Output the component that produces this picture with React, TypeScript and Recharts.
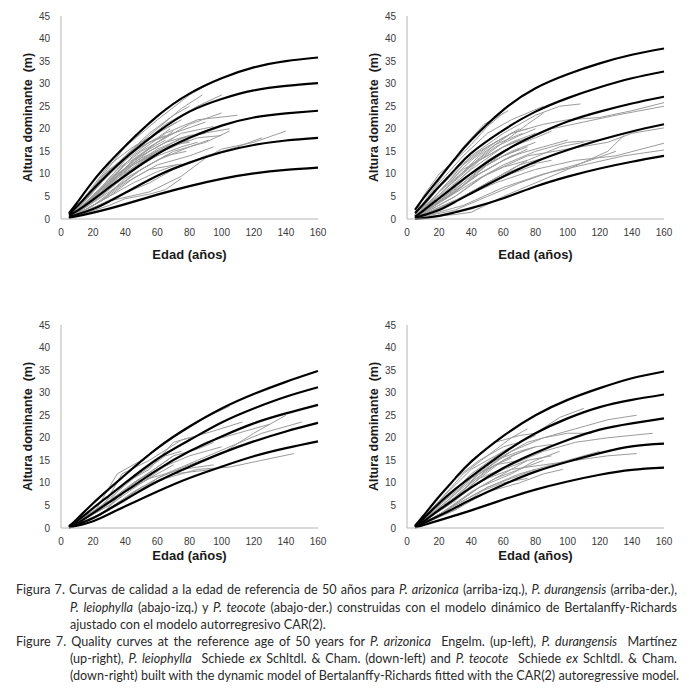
import React from "react";
import { LineChart, Line, XAxis, YAxis } from "recharts";

// ages at which the fitted site curves were read
const AGES = [5, 10, 20, 30, 40, 60, 80, 100, 120, 140, 160];
const X_TICKS = [0, 20, 40, 60, 80, 100, 120, 140, 160];
const Y_TICKS = [0, 5, 10, 15, 20, 25, 30, 35, 40, 45];

// Bertalanffy-Richards curves (m), one row per site class
const arizonicaCurves = [
  [1.3, 3.6, 8.4, 12.5, 16.2, 22.8, 27.8, 31.2, 33.6, 35.0, 35.8],
  [1.0, 2.8, 6.6, 10.2, 13.5, 19.2, 23.8, 26.6, 28.5, 29.5, 30.1],
  [0.8, 1.8, 4.3, 7.0, 9.6, 14.4, 18.0, 20.7, 22.5, 23.4, 24.0],
  [0.5, 1.0, 2.2, 3.9, 5.8, 9.6, 12.5, 14.8, 16.4, 17.4, 18.0],
  [0.3, 0.6, 1.4, 2.3, 3.3, 5.4, 7.3, 8.9, 10.1, 10.9, 11.4],
];
const durangensisCurves = [
  [2.0, 4.5, 9.0, 13.4, 17.5, 24.2, 29.0, 32.1, 34.5, 36.4, 37.8],
  [1.3, 3.2, 7.2, 11.0, 14.6, 19.7, 23.8, 26.8, 29.2, 31.2, 32.7],
  [0.5, 1.8, 4.6, 7.4, 10.1, 14.9, 18.6, 21.6, 23.8, 25.6, 27.1],
  [0.2, 0.8, 2.0, 3.8, 5.7, 9.4, 12.7, 15.3, 17.5, 19.4, 21.0],
  [0.0, 0.2, 0.7, 1.5, 2.4, 4.6, 7.2, 9.4, 11.2, 12.7, 14.0],
];
const leiophyllaCurves = [
  [0.4, 2.0, 5.5, 8.7, 11.8, 17.7, 22.5, 26.5, 29.7, 32.4, 34.8],
  [0.2, 1.5, 4.4, 7.2, 10.0, 15.3, 19.5, 23.4, 26.5, 29.1, 31.2],
  [0.2, 1.0, 3.3, 5.7, 8.1, 12.9, 17.0, 20.3, 23.2, 25.4, 27.3],
  [0.1, 0.7, 2.2, 4.2, 6.3, 10.3, 13.6, 16.6, 19.2, 21.4, 23.3],
  [0.1, 0.5, 1.5, 3.1, 4.8, 8.1, 11.1, 13.6, 15.9, 17.7, 19.2],
];
const teocoteCurves = [
  [0.5, 2.6, 7.0, 11.0, 14.7, 20.4, 25.0, 28.4, 31.0, 33.2, 34.7],
  [0.4, 2.0, 5.5, 8.6, 11.4, 16.6, 21.0, 24.3, 26.8, 28.4, 29.6],
  [0.3, 1.4, 4.0, 6.5, 9.0, 13.3, 16.7, 19.5, 21.8, 23.2, 24.3],
  [0.2, 1.0, 2.7, 4.5, 6.3, 9.6, 12.5, 14.7, 16.6, 18.1, 18.7],
  [0.1, 0.6, 1.7, 2.8, 3.9, 6.3, 8.5, 10.3, 11.8, 12.9, 13.4],
];

// observed stem-analysis profiles: [age, height] pairs
const arizonicaObs = [
  [[5, 0.5], [20, 7], [40, 16], [60, 22], [80, 27.5], [95, 30.5]],
  [[5, 0.3], [20, 6], [40, 14], [60, 20], [75, 24.5], [88, 27.5]],
  [[5, 0.3], [25, 8], [45, 15], [65, 21], [85, 25], [100, 27.5]],
  [[5, 0.2], [25, 7], [45, 14], [65, 19], [85, 22], [110, 23]],
  [[5, 0.2], [20, 5], [40, 12], [60, 17], [80, 21], [100, 23.5]],
  [[5, 0.2], [25, 6], [45, 12], [60, 15.5], [80, 18.5], [105, 20]],
  [[5, 0.1], [30, 6], [50, 11], [70, 15], [90, 17], [105, 19.5]],
  [[5, 0.1], [30, 4], [55, 6], [75, 9.5], [90, 13.5], [100, 15.5], [120, 17], [140, 19.5]],
  [[5, 0.1], [35, 5], [55, 8], [70, 11], [90, 14], [110, 16], [125, 18]],
  [[5, 0.2], [20, 4], [40, 10], [60, 15], [75, 18], [90, 19]],
  [[5, 0.2], [20, 5], [35, 10], [50, 14], [65, 17], [80, 18.5]],
  [[5, 0.2], [20, 4], [35, 9], [55, 14], [70, 16.5]],
  [[5, 0.1], [25, 4], [40, 8], [55, 11], [75, 12.2]],
  [[5, 0.3], [15, 5], [30, 12], [45, 16], [55, 18]],
  [[5, 0.3], [20, 6], [35, 12], [50, 17], [65, 20], [75, 22]],
  [[5, 0.1], [30, 5], [45, 9], [60, 12], [80, 14], [95, 16]],
  [[5, 0.2], [25, 7], [40, 13], [55, 17], [70, 19], [90, 21.5]],
  [[5, 0.1], [25, 5], [45, 11], [60, 14], [75, 16], [85, 17]],
  [[5, 0.2], [20, 6], [40, 14], [55, 19], [70, 23], [80, 25]],
  [[5, 0.1], [30, 3], [40, 4.5], [55, 5.5], [65, 6.5], [75, 9]],
  [[5, 0.3], [20, 5], [35, 11], [50, 15], [60, 17], [70, 19.5]],
  [[5, 0.2], [30, 8], [45, 13], [60, 16], [75, 19], [95, 20.5]],
  [[5, 0.3], [15, 4], [30, 10], [45, 15], [60, 19], [72, 21.5]],
  [[5, 0.2], [20, 5], [35, 10], [50, 13.5], [65, 16], [80, 17.5]],
  [[5, 0.2], [25, 6], [40, 11], [55, 15], [70, 18]],
  [[5, 0.1], [20, 3], [35, 7], [50, 11], [65, 14], [78, 15]],
  [[5, 0.2], [30, 8], [45, 13], [60, 17], [70, 19]],
  [[5, 0.2], [15, 3], [30, 8], [45, 12], [60, 15]],
  [[5, 0.1], [25, 4], [40, 9], [60, 13], [80, 16], [92, 17.5]],
  [[5, 0.3], [25, 9], [40, 14], [55, 17], [65, 18.5]],
  [[5, 0.2], [20, 5], [40, 11], [50, 13], [70, 16], [85, 19], [95, 20]],
  [[5, 0.1], [30, 5], [45, 8], [60, 10.5], [72, 12]],
  [[5, 0.2], [25, 6], [35, 9.5], [45, 13], [55, 15.5], [65, 17.5]],
  [[5, 0.2], [30, 7], [40, 10], [50, 12.5], [60, 14.5], [70, 16.5], [80, 17]],
  [[5, 0.3], [20, 7], [30, 11], [40, 13.5], [50, 16], [60, 18], [68, 20]],
  [[5, 0.1], [35, 8], [50, 12], [65, 15.5], [85, 18], [100, 18.5]],
];
const durangensisObs = [
  [[5, 1], [15, 6], [25, 11], [35, 16], [48, 21], [63, 24]],
  [[5, 0.8], [20, 8], [35, 14], [50, 19], [65, 22], [85, 25]],
  [[5, 0.5], [20, 6], [40, 14], [60, 19], [80, 23], [95, 25], [108, 25.5]],
  [[5, 0.5], [25, 7], [45, 14], [65, 19], [85, 21], [100, 22], [120, 22.5], [140, 24], [160, 25.8]],
  [[5, 0.3], [30, 7], [50, 13], [70, 17], [90, 20], [110, 21.5], [130, 23], [160, 25]],
  [[5, 0.3], [25, 5], [45, 10], [65, 14], [85, 16], [100, 17.5]],
  [[5, 0.2], [30, 5], [50, 10], [75, 14], [100, 15.5], [125, 17], [140, 19], [160, 20.2]],
  [[5, 0.2], [30, 4], [55, 8], [80, 11], [105, 13], [130, 14], [160, 16.8]],
  [[5, 0.1], [35, 3], [60, 7], [85, 10], [110, 12], [135, 14], [160, 15.3]],
  [[5, 0.2], [30, 1], [40, 1.5], [60, 5], [80, 8], [100, 11], [125, 15], [135, 18.5]],
  [[5, 0.3], [20, 5], [40, 11], [60, 16], [75, 18]],
  [[5, 0.3], [20, 4], [40, 10], [60, 14], [75, 16]],
  [[5, 0.2], [25, 5], [45, 11], [60, 14], [70, 15.5]],
  [[5, 0.4], [20, 7], [35, 12], [50, 16], [65, 19], [75, 20]],
  [[5, 0.2], [30, 6], [50, 12], [65, 16], [80, 18], [90, 19.5]],
  [[5, 0.2], [30, 4], [50, 8], [70, 12], [90, 14]],
  [[5, 0.1], [25, 3], [45, 7], [65, 10], [80, 12]],
  [[5, 0.4], [15, 5], [30, 11], [45, 15], [60, 18]],
  [[5, 0.3], [25, 7], [40, 12], [55, 16], [70, 18.5], [80, 20]],
  [[5, 0.2], [40, 8], [60, 12], [80, 15], [100, 17], [120, 17.5]],
  [[5, 0.5], [10, 5], [20, 10], [30, 13], [40, 16.5], [50, 20.5], [60, 23.5]],
  [[5, 0.3], [25, 6], [45, 13], [60, 17], [75, 21], [85, 23.5]],
  [[5, 0.2], [30, 5], [45, 9], [60, 11.5], [75, 13]],
  [[5, 0.3], [20, 6], [35, 11], [50, 14], [65, 17], [80, 19]],
  [[5, 0.2], [20, 4], [35, 8], [50, 12], [65, 15], [80, 17]],
  [[5, 0.3], [25, 8], [40, 13], [55, 17], [70, 20]],
  [[5, 0.1], [25, 3], [40, 6], [60, 10], [75, 12], [90, 13]],
  [[5, 0.2], [30, 6], [45, 10], [60, 13], [75, 15.5]],
  [[5, 0.4], [20, 6], [30, 9], [45, 13], [60, 16], [70, 17.5]],
  [[5, 0.2], [35, 5], [55, 9], [75, 13], [95, 16], [110, 17]],
  [[5, 0.1], [30, 2], [50, 5], [70, 8], [90, 10.5], [110, 12.5], [130, 15]],
  [[5, 0.3], [25, 7], [35, 10], [45, 13.5], [55, 16.5], [65, 18], [72, 19]],
  [[5, 0.2], [30, 6], [40, 9], [50, 11], [60, 13], [70, 14.5]],
];
const leiophyllaObs = [
  [[5, 0.2], [20, 3], [35, 12], [50, 15], [70, 20], [90, 24.5], [105, 27]],
  [[5, 0.2], [25, 4], [38, 12], [55, 15], [75, 19.5], [95, 21.5], [113, 23.5]],
  [[5, 0.1], [25, 3], [45, 8], [65, 12], [85, 15], [105, 18], [125, 21], [150, 23.5]],
  [[5, 0.1], [25, 3], [45, 8], [65, 11], [85, 13], [105, 13.5], [125, 15], [145, 16.5]],
  [[5, 0.2], [30, 5], [50, 10], [70, 15], [90, 19], [110, 21], [130, 23]],
  [[5, 0.2], [30, 5], [45, 10], [60, 13], [80, 16], [100, 18]],
  [[5, 0.1], [30, 4], [50, 9], [70, 12], [95, 13]],
  [[5, 0.2], [25, 5], [45, 11], [65, 16], [75, 17]],
  [[5, 0.2], [30, 6], [45, 10], [60, 13.5], [70, 16]],
  [[5, 0.2], [20, 2], [40, 6], [60, 11], [80, 14], [100, 16.5], [120, 21], [140, 25]],
  [[5, 0.1], [35, 7], [55, 11], [70, 14]],
  [[5, 0.2], [30, 6], [50, 11], [70, 16], [85, 17.5], [95, 19]],
  [[5, 0.1], [25, 3], [40, 8], [55, 11], [75, 13], [95, 14]],
  [[5, 0.2], [30, 6], [40, 10], [55, 13], [70, 19], [80, 20]],
];
const teocoteObs = [
  [[5, 0.3], [20, 7], [40, 15], [55, 19], [70, 20.5], [80, 21]],
  [[5, 0.3], [20, 5], [40, 12], [60, 17], [80, 21], [95, 24.5], [110, 26.5]],
  [[5, 0.2], [25, 6], [45, 12], [65, 17], [85, 20], [105, 22], [125, 24], [143, 25]],
  [[5, 0.2], [25, 5], [45, 11], [65, 14], [85, 17], [105, 19], [125, 20], [153, 21]],
  [[5, 0.1], [25, 4], [45, 9], [65, 13], [85, 14], [105, 15], [125, 16], [143, 16.5]],
  [[5, 0.1], [25, 4], [45, 9], [65, 12], [80, 15], [95, 17]],
  [[5, 0.1], [30, 4], [50, 8], [70, 10], [85, 12], [97, 13]],
  [[5, 0.3], [15, 5], [30, 11], [45, 15], [60, 18], [70, 19]],
  [[5, 0.2], [20, 5], [40, 11], [55, 15], [70, 17], [80, 18]],
  [[5, 0.2], [25, 5], [40, 10], [55, 14], [65, 15.5]],
  [[5, 0.2], [20, 4], [35, 8], [50, 11], [65, 13], [75, 15]],
  [[5, 0.2], [25, 5], [45, 12], [60, 16], [75, 19], [85, 20], [100, 21], [115, 21]],
  [[5, 0.1], [30, 5], [50, 9], [70, 12], [90, 14], [110, 16], [120, 17]],
  [[5, 0.3], [20, 6], [35, 12], [50, 16], [65, 20], [75, 22]],
  [[5, 0.2], [25, 6], [40, 11], [55, 14], [70, 15]],
  [[5, 0.1], [30, 5], [45, 8], [60, 10], [75, 11]],
  [[5, 0.2], [20, 4], [40, 9], [60, 13], [75, 16]],
  [[5, 0.2], [30, 7], [50, 13], [65, 16], [80, 18], [90, 18.5]],
  [[5, 0.2], [20, 5], [35, 10], [50, 14], [60, 16], [70, 18]],
  [[5, 0.2], [25, 5], [45, 10], [60, 13], [75, 15], [90, 16]],
  [[5, 0.3], [20, 6], [40, 13], [55, 16], [70, 19], [80, 20.5]],
  [[5, 0.1], [30, 4], [50, 9], [65, 11], [80, 13]],
  [[5, 0.2], [30, 6], [45, 11], [60, 15], [75, 17.5]],
  [[5, 0.1], [20, 3], [40, 8], [55, 11], [70, 13], [85, 15]],
];

const PANELS = [
  { key: "ari", left: 0, top: 0, xh: 40, curves: arizonicaCurves, obs: arizonicaObs },
  { key: "dur", left: 346, top: 0, xh: 40, curves: durangensisCurves, obs: durangensisObs },
  { key: "lei", left: 0, top: 309, xh: 32, curves: leiophyllaCurves, obs: leiophyllaObs },
  { key: "teo", left: 346, top: 309, xh: 32, curves: teocoteCurves, obs: teocoteObs },
];

const W = 345;
const H = 270;
const PLOT_TOP = 16;
const PLOT_H = 203;
const AXIS = "#b5b5b5";
const TICK = { fill: "#3a3a3a", fontSize: 10 };

function curveTable(curves: number[][]) {
  return AGES.map((age, i) => {
    const row: Record<string, number> = { age };
    curves.forEach((c, j) => {
      row[`c${j}`] = c[i];
    });
    return row;
  });
}

function Panel({ left, top, xh, curves, obs }: any) {
  const table = curveTable(curves);
  return (
    <div style={{ position: "absolute", left, top }}>
      <LineChart
        width={W}
        height={H}
        data={table}
        margin={{ top: PLOT_TOP, right: 27, bottom: H - PLOT_TOP - PLOT_H - xh, left: 21 }}
        style={{ fontFamily: "'Liberation Sans', Arial, sans-serif" }}
      >
        <XAxis
          dataKey="age"
          type="number"
          domain={[0, 160]}
          ticks={X_TICKS}
          tickLine={false}
          tickMargin={4}
          stroke={AXIS}
          tick={TICK}
          height={xh}
          label={{
            value: "Edad (años)",
            position: "insideBottom",
            offset: 0,
            fill: "#1a1a1a",
            fontSize: 13,
            fontWeight: "bold",
          }}
        />
        <YAxis
          type="number"
          domain={[0, 45]}
          ticks={Y_TICKS}
          tickLine={false}
          tickMargin={5}
          width={40}
          stroke={AXIS}
          tick={TICK}
          label={{
            value: "Altura dominante\u00a0 (m)",
            angle: -90,
            position: "insideLeft",
            offset: 7,
            fill: "#1a1a1a",
            fontSize: 12.5,
            fontWeight: "bold",
            style: { textAnchor: "middle" },
          }}
        />
        {obs.map((o: number[][], i: number) => (
          <Line
            key={`o${i}`}
            data={o.map(([age, h]) => ({ age, h }))}
            dataKey="h"
            type="linear"
            stroke="#9c9c9c"
            strokeWidth={1}
            dot={false}
            activeDot={false}
            isAnimationActive={false}
          />
        ))}
        {curves.map((_: number[], j: number) => (
          <Line
            key={`c${j}`}
            dataKey={`c${j}`}
            type="natural"
            stroke="#000"
            strokeWidth={2.2}
            dot={false}
            activeDot={false}
            isAnimationActive={false}
          />
        ))}
      </LineChart>
    </div>
  );
}

const capLine: React.CSSProperties = {
  position: "absolute",
  textAlign: "justify",
  whiteSpace: "nowrap",
};

function Caption() {
  const lh = 17.2;
  const y0 = 581.4;
  const rows: { left: number; just: boolean; content: React.ReactNode }[] = [
    {
      left: 16,
      just: true,
      content: (
        <>
          Figura 7. Curvas de calidad a la edad de referencia de 50 años para <i>P. arizonica</i> (arriba-izq.),{" "}
          <i>P. durangensis</i> (arriba-der.),
        </>
      ),
    },
    {
      left: 70,
      just: true,
      content: (
        <>
          <i>P. leiophylla</i> (abajo-izq.) y <i>P. teocote</i> (abajo-der.) construidas con el modelo dinámico de
          Bertalanffy-Richards
        </>
      ),
    },
    { left: 70, just: false, content: <>ajustado con el modelo autorregresivo CAR(2).</> },
    {
      left: 16,
      just: true,
      content: (
        <>
          Figure 7. Quality curves at the reference age of 50 years for <i>P. arizonica</i>&nbsp; Engelm. (up-left),{" "}
          <i>P. durangensis</i>&nbsp; Martínez
        </>
      ),
    },
    {
      left: 70,
      just: true,
      content: (
        <>
          (up-right), <i>P. leiophylla</i>&nbsp; Schiede <i>ex</i> Schltdl. &amp; Cham. (down-left) and{" "}
          <i>P. teocote</i>&nbsp; Schiede <i>ex</i> Schltdl. &amp; Cham.
        </>
      ),
    },
    {
      left: 70,
      just: true,
      content: (
        <>(down-right) built with the dynamic model of Bertalanffy-Richards fitted with the CAR(2) autoregressive model.</>
      ),
    },
  ];
  return (
    <div style={{ fontFamily: "Lato, 'Noto Sans', sans-serif", fontSize: 12.6, color: "#2a2a2a" }}>
      {rows.map((r, i) => (
        <div
          key={i}
          style={{
            ...capLine,
            left: r.left,
            width: 677 - r.left,
            top: y0 + i * lh,
            lineHeight: `${lh}px`,
            textAlignLast: r.just ? "justify" : "left",
          }}
        >
          {r.content}
        </div>
      ))}
    </div>
  );
}

export default function App() {
  return (
    <div style={{ position: "absolute", left: 0, top: 0, width: 689, height: 696, background: "#fff", overflow: "hidden" }}>
      {PANELS.map((p) => (
        <Panel key={p.key} {...p} />
      ))}
      <Caption />
    </div>
  );
}
